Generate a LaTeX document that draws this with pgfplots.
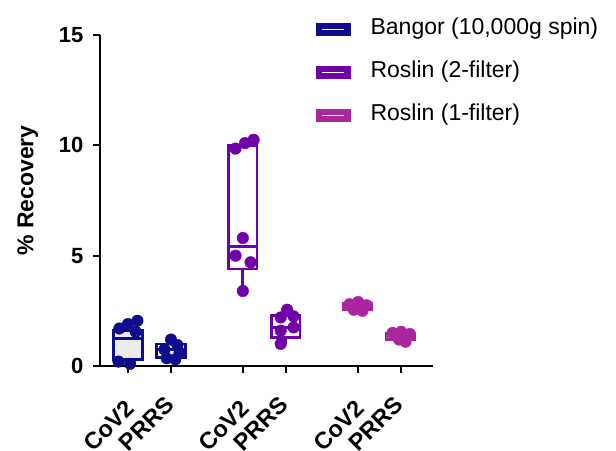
\documentclass[border=0pt]{standalone}
\usepackage{pgfplots}
\pgfplotsset{compat=1.18}
\usepgfplotslibrary{statistics}
\usepackage{fontspec}
\setmainfont{Liberation Sans}
\definecolor{cA}{RGB}{14,14,140}
\definecolor{cB}{RGB}{112,0,168}
\definecolor{cC}{RGB}{170,38,158}
\newcommand{\prrs}{\raisebox{5.5pt}[\height][\depth]{PRRS}\hspace{18pt}}
\begin{document}
\begin{tikzpicture}[x=1pt,y=1pt]
\path[use as bounding box] (-100,-84) rectangle (516,366);
\begin{axis}[
  at={(0,0)}, anchor=south west,
  scale only axis, width=333pt, height=331pt,
  xmin=-0.65, xmax=7.09, ymin=0, ymax=15,
  axis lines=left, axis line style={line width=2.2pt, -},
  xtick={0,1,2.67,3.67,5.34,6.34},
  xticklabels={CoV2,\prrs,CoV2,\prrs,CoV2,\prrs},
  ytick={0,5,10,15},
  tick style={line width=2pt, black},
  tick align=outside, major tick length=7pt,
  /pgf/number format/assume math mode=true,
  yticklabel style={font=\bfseries\fontsize{22}{22}\selectfont, xshift=-6pt},
  xticklabel style={font=\bfseries\fontsize{23.5}{23.5}\selectfont, rotate=45, anchor=north east, inner sep=1pt, xshift=-19.5pt, yshift=-14.5pt},
  ylabel={\% Recovery},
  ylabel style={font=\bfseries\fontsize{23}{23}\selectfont, yshift=14pt, xshift=10pt},
  clip=false,
  legend style={draw=none, fill=none, at={(0.6486,1.049)}, anchor=north west, inner sep=0pt,
    font=\fontsize{23}{23}\selectfont, row sep=22pt,
    nodes={inner sep=0pt, text height=16pt, text depth=5pt},
    /tikz/every odd column/.append style={column sep=20pt}},
  legend cell align=left,
  boxplot/draw direction=y,
  boxplot/whisker extend=0,
  boxplot/box extend=0.66,
]
\addlegendimage{legend image code/.code={\draw[fill=cA,draw=cA] (0pt,-6pt) rectangle (34pt,6pt); \draw[white,line width=1.8pt] (6pt,0pt)--(28pt,0pt);}}
\addlegendentry{Bangor (10,000g spin)}
\addlegendimage{legend image code/.code={\draw[fill=cB,draw=cB] (0pt,-6pt) rectangle (34pt,6pt); \draw[white,line width=1.8pt] (6pt,0pt)--(28pt,0pt);}}
\addlegendentry{Roslin (2-filter)}
\addlegendimage{legend image code/.code={\draw[fill=cC,draw=cC] (0pt,-6pt) rectangle (34pt,6pt); \draw[white,line width=1.8pt] (6pt,0pt)--(28pt,0pt);}}
\addlegendentry{Roslin (1-filter)}

% Bangor
\addplot[forget plot, draw=cA, fill=black!8, line width=2.8pt, boxplot prepared={draw position=0, lower whisker=0.1, lower quartile=0.3, median=1.25, upper quartile=1.6, upper whisker=2.1}] coordinates {};
\addplot[forget plot, only marks, mark=*, mark size=5.8pt, color=cA] coordinates {(0.22,2.05) (-0.2,1.7) (0.0,1.9) (0.18,1.55) (-0.22,0.2) (0.05,0.1)};
\addplot[forget plot, draw=cA, fill=white, line width=2.8pt, boxplot prepared={draw position=1, lower whisker=0.25, lower quartile=0.4, median=0.75, upper quartile=1.0, upper whisker=1.2}] coordinates {};
\addplot[forget plot, only marks, mark=*, mark size=5.8pt, color=cA] coordinates {(1.0,1.2) (1.15,0.95) (0.85,0.75) (1.2,0.6) (0.9,0.35) (1.1,0.3)};
% Roslin 2
\addplot[forget plot, draw=cB, fill=white, line width=2.8pt, boxplot prepared={draw position=2.67, lower whisker=3.4, lower quartile=4.4, median=5.4, upper quartile=10.0, upper whisker=10.3}] coordinates {};
\addplot[forget plot, only marks, mark=*, mark size=5.8pt, color=cB] coordinates {(2.92,10.25) (2.72,10.1) (2.5,9.85) (2.67,5.8) (2.5,5.0) (2.85,4.7) (2.67,3.4)};
\addplot[forget plot, draw=cB, fill=white, line width=2.8pt, boxplot prepared={draw position=3.67, lower whisker=1.0, lower quartile=1.3, median=1.75, upper quartile=2.3, upper whisker=2.6}] coordinates {};
\addplot[forget plot, only marks, mark=*, mark size=5.8pt, color=cB] coordinates {(3.7,2.55) (3.55,2.2) (3.85,2.25) (3.85,1.75) (3.55,1.6) (3.55,1.0)};
% Roslin 1
\addplot[forget plot, draw=cC, fill=white, line width=2.8pt, boxplot prepared={draw position=5.34, lower whisker=2.5, lower quartile=2.55, median=2.7, upper quartile=2.85, upper whisker=2.9}] coordinates {};
\addplot[forget plot, only marks, mark=*, mark size=5.8pt, color=cC] coordinates {(5.15,2.8) (5.35,2.9) (5.55,2.75) (5.25,2.55) (5.45,2.5)};
\addplot[forget plot, draw=cC, fill=white, line width=2.8pt, boxplot prepared={draw position=6.34, lower whisker=1.1, lower quartile=1.2, median=1.4, upper quartile=1.5, upper whisker=1.6}] coordinates {};
\addplot[forget plot, only marks, mark=*, mark size=5.8pt, color=cC] coordinates {(6.15,1.5) (6.35,1.55) (6.55,1.45) (6.3,1.2) (6.45,1.1)};
\end{axis}
\end{tikzpicture}
\end{document}
